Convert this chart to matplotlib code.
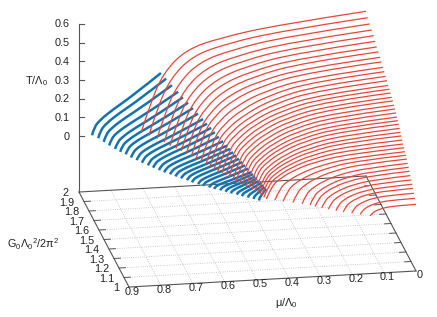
import matplotlib
matplotlib.use("Agg")
import matplotlib.pyplot as plt
from matplotlib.path import Path
from matplotlib.patches import PathPatch

plt.rcParams['font.family'] = ['Liberation Sans', 'DejaVu Sans']
plt.rcParams['mathtext.fontset'] = 'custom'
plt.rcParams['mathtext.rm'] = 'Liberation Sans'
plt.rcParams['mathtext.it'] = 'Liberation Sans'
plt.rcParams['mathtext.default'] = 'regular'

mu_ticks = [0, 0.1, 0.2, 0.3, 0.4, 0.5, 0.6, 0.7, 0.8, 0.9]
g_ticks = [1, 1.1, 1.2, 1.3, 1.4, 1.5, 1.6, 1.7, 1.8, 1.9, 2]
t_ticks = [0, 0.1, 0.2, 0.3, 0.4, 0.5, 0.6]

curve_G = [2.0, 1.966, 1.926, 1.886, 1.846, 1.814, 1.786, 1.75, 1.72, 1.69, 1.66,
           1.634, 1.606, 1.58, 1.556, 1.532, 1.508, 1.486, 1.462, 1.44, 1.42,
           1.40, 1.382, 1.364, 1.346, 1.328, 1.31, 1.292, 1.274, 1.256, 1.238,
           1.22, 1.202, 1.184, 1.166, 1.148, 1.13, 1.112, 1.094, 1.076, 1.058,
           1.04, 1.02, 1.0]

# red lines
red_mu = [
    [0, .282, .458, .564, .635, .677, .705], [0, .274, .446, .549, .617, .659, .686],
    [0, .267, .434, .534, .600, .640, .667], [0, .260, .423, .521, .586, .625, .651],
    [0, .256, .415, .511, .575, .613, .639], [0, .250, .406, .500, .563, .600, .625],
    [0, .245, .398, .490, .552, .588, .613], [0, .241, .392, .482, .543, .579, .603],
    [0, .237, .385, .474, .533, .568, .592], [0, .233, .378, .466, .524, .559, .582],
    [0, .228, .371, .457, .514, .548, .571], [0, .224, .363, .447, .503, .537, .559],
    [0, .220, .358, .441, .496, .529, .551], [0, .217, .352, .434, .488, .520, .542],
    [0, .214, .347, .427, .481, .513, .534], [0, .210, .341, .420, .473, .504, .525],
    [0, .206, .335, .413, .464, .495, .516], [0, .204, .332, .408, .459, .490, .510],
    [0, .200, .326, .401, .451, .481, .501], [0, .198, .322, .396, .446, .475, .495],
    [0, .194, .316, .389, .437, .467, .486], [0, .192, .312, .384, .432, .461, .480],
    [0, .189, .307, .378, .426, .454, .473], [0, .186, .303, .373, .419, .447, .466],
    [0, .184, .299, .368, .414, .442, .460], [0, .181, .294, .362, .408, .435, .453],
    [0, .179, .291, .358, .402, .429, .447], [0, .178, .289, .355, .400, .426, .444],
    [0, .176, .287, .353, .397, .423, .441], [0, .175, .284, .350, .393, .420, .437],
    [0, .173, .281, .346, .389, .415, .432], [0, .163, .265, .326, .367, .392, .408],
    [0, .154, .250, .308, .347, .370, .385], [0, .143, .232, .286, .321, .343, .357],
    [0, .132, .215, .265, .298, .318, .331], [0, .124, .201, .247, .278, .297, .309],
    [0, .118, .192, .237, .266, .284, .296], [0, .111, .181, .222, .250, .267, .278],
    [0, .104, .169, .208, .234, .250, .260], [0, .096, .155, .191, .215, .229, .239],
    [0, .088, .142, .175, .197, .210, .219], [0, .078, .127, .156, .176, .187, .195],
    [0, .069, .112, .138, .155, .165, .172], [0, .058, .094, .115, .130, .138, .144],
]
red_T = [
    [.582, .535, .483, .431, .314, .151, .000], [.565, .520, .467, .413, .302, .149, .000],
    [.552, .509, .454, .399, .291, .148, .001], [.540, .498, .443, .385, .281, .146, .001],
    [.530, .489, .433, .373, .273, .146, .001], [.516, .477, .420, .358, .263, .144, .002],
    [.500, .463, .405, .343, .252, .142, .002], [.492, .456, .397, .333, .244, .141, .002],
    [.478, .443, .384, .319, .234, .139, .002], [.469, .435, .375, .309, .227, .138, .002],
    [.455, .422, .363, .295, .217, .136, .003], [.445, .413, .353, .284, .210, .134, .003],
    [.434, .404, .343, .273, .202, .132, .003], [.424, .394, .335, .267, .197, .129, .003],
    [.411, .382, .325, .259, .191, .125, .003], [.403, .375, .318, .254, .187, .123, .004],
    [.395, .367, .312, .249, .184, .120, .004], [.383, .356, .303, .241, .178, .117, .004],
    [.376, .350, .297, .237, .175, .115, .004], [.364, .339, .288, .229, .169, .111, .005],
    [.354, .329, .280, .223, .165, .108, .005], [.343, .319, .271, .216, .159, .105, .005],
    [.330, .307, .261, .208, .153, .101, .005], [.320, .298, .253, .202, .149, .098, .005],
    [.310, .288, .245, .195, .144, .095, .005], [.297, .276, .235, .187, .138, .091, .006],
    [.285, .265, .225, .180, .133, .087, .006], [.275, .256, .217, .173, .128, .084, .006],
    [.262, .244, .207, .165, .122, .080, .006], [.250, .233, .198, .158, .116, .076, .006],
    [.239, .222, .189, .151, .111, .073, .006], [.227, .211, .179, .143, .106, .069, .007],
    [.217, .202, .171, .137, .101, .066, .007], [.206, .192, .163, .130, .096, .063, .007],
    [.192, .179, .152, .121, .089, .059, .007], [.180, .167, .142, .113, .084, .055, .008],
    [.168, .156, .133, .106, .078, .051, .008], [.154, .143, .122, .097, .072, .047, .008],
    [.140, .131, .112, .091, .067, .044, .008], [.126, .118, .103, .084, .062, .041, .008],
    [.113, .107, .095, .077, .058, .038, .008], [.096, .092, .082, .067, .050, .033, .009],
    [.079, .076, .069, .056, .042, .028, .009], [.057, .055, .050, .041, .031, .021, .009],
]

# blue lines, same couplings, top 31 curves only
blue_mu = [
    [.859, .853, .833, .794, .729, .643], [.845, .839, .819, .781, .717, .632],
    [.834, .828, .808, .770, .706, .620], [.823, .817, .797, .758, .693, .607],
    [.811, .805, .785, .747, .683, .598], [.800, .794, .774, .736, .672, .587],
    [.787, .781, .762, .724, .660, .576], [.776, .770, .751, .713, .650, .566],
    [.763, .757, .738, .701, .638, .555], [.751, .745, .727, .690, .629, .547],
    [.737, .731, .713, .678, .618, .539], [.725, .719, .702, .667, .609, .531],
    [.711, .705, .688, .655, .598, .523], [.699, .693, .677, .644, .588, .514],
    [.684, .679, .663, .630, .577, .505], [.671, .666, .650, .620, .568, .500],
    [.657, .652, .637, .608, .559, .494], [.642, .637, .624, .596, .550, .488],
    [.630, .626, .612, .586, .541, .482], [.614, .610, .597, .573, .531, .476],
    [.602, .598, .586, .562, .523, .470], [.586, .582, .571, .549, .513, .464],
    [.573, .570, .559, .538, .503, .457], [.557, .554, .545, .526, .495, .454],
    [.543, .540, .532, .515, .487, .450], [.529, .527, .519, .504, .480, .447],
    [.513, .511, .505, .492, .472, .444], [.500, .498, .493, .482, .464, .440],
    [.484, .483, .478, .470, .456, .437], [.469, .468, .465, .459, .449, .435],
    [.455, .454, .452, .448, .442, .433],
]
blue_T = [
    [0, .041, .081, .131, .203, .313], [0, .039, .078, .126, .194, .299],
    [0, .037, .074, .119, .184, .283], [0, .035, .069, .112, .174, .267],
    [0, .033, .067, .108, .167, .257], [0, .032, .063, .102, .158, .243],
    [0, .030, .059, .095, .148, .227], [0, .028, .056, .090, .140, .215],
    [0, .026, .052, .084, .130, .200], [0, .025, .049, .080, .124, .190],
    [0, .024, .047, .076, .118, .182], [0, .022, .044, .072, .111, .171],
    [0, .021, .042, .067, .104, .160], [0, .019, .039, .063, .097, .149],
    [0, .018, .036, .058, .089, .137], [0, .017, .034, .055, .085, .131],
    [0, .016, .032, .052, .081, .124], [0, .015, .031, .050, .077, .118],
    [0, .015, .029, .047, .073, .112], [0, .014, .027, .044, .068, .105],
    [0, .013, .025, .041, .063, .097], [0, .012, .023, .037, .058, .089],
    [0, .010, .021, .033, .051, .079], [0, .010, .020, .032, .050, .077],
    [0, .009, .019, .031, .047, .073], [0, .009, .018, .030, .046, .071],
    [0, .009, .017, .028, .044, .067], [0, .008, .017, .027, .042, .065],
    [0, .008, .016, .026, .040, .062], [0, .008, .016, .026, .040, .062],
    [0, .008, .016, .026, .040, .062],
]


# gnuplot-style view of the box, in pixels of the 437x317 figure
def project(mu, g, t):
    x = 416 - 318.9 * mu - 50 * (g - 1)
    y = 271 + 17.8 * mu - 95 * (g - 1) - 186.7 * (t + 0.3)
    return x, y


def smooth_curve(mu, g, t, color, lw, zorder):
    pts = [project(m, g, v) for m, v in zip(mu, t)]
    verts = [pts[0]]
    codes = [Path.MOVETO]
    for i in range(1, len(pts) - 2):
        mid = ((pts[i][0] + pts[i + 1][0]) / 2, (pts[i][1] + pts[i + 1][1]) / 2)
        verts += [pts[i], mid]
        codes += [Path.CURVE3, Path.CURVE3]
    verts += [pts[-2], pts[-1]]
    codes += [Path.CURVE3, Path.CURVE3]
    ax.add_patch(PathPatch(Path(verts, codes), fc='none', ec=color, lw=lw, zorder=zorder, capstyle='butt'))


fig = plt.figure(figsize=(4.37, 3.17), dpi=100)
ax = fig.add_axes([0, 0, 1, 1])
ax.set_xlim(0, 437)
ax.set_ylim(317, 0)
ax.axis('off')

axis_c = '#555555'
text_c = '#222222'
floor = -0.3

# floor grid
for m in mu_ticks[1:-1]:
    a, b = project(m, 1, floor), project(m, 2, floor)
    ax.plot([a[0], b[0]], [a[1], b[1]], ls=':', lw=0.6, color='#bbbbbb', zorder=1)
for g in g_ticks[1:-1]:
    a, b = project(0, g, floor), project(0.9, g, floor)
    ax.plot([a[0], b[0]], [a[1], b[1]], ls=':', lw=0.6, color='#bbbbbb', zorder=1)

# box edges on the floor
for m0, g0, m1, g1 in [(0, 1, 0.9, 1), (0.9, 1, 0.9, 2), (0.9, 2, 0, 2), (0, 2, 0, 1)]:
    a, b = project(m0, g0, floor), project(m1, g1, floor)
    ax.plot([a[0], b[0]], [a[1], b[1]], lw=0.8, color=axis_c, zorder=2)

# T axis
a, b = project(0.9, 2, floor), project(0.9, 2, 0.6)
ax.plot([a[0], b[0]], [a[1], b[1]], lw=0.8, color=axis_c, zorder=2)
for t in t_ticks:
    x, y = project(0.9, 2, t)
    ax.plot([x, x + 5], [y, y], lw=0.8, color=axis_c, zorder=2)
    ax.text(x - 9, y + 0.5, '%g' % t, ha='right', va='center', fontsize=7.8, color=text_c)

# ticks and labels on the floor
for g in g_ticks:
    x, y = project(0.9, g, floor)
    ax.text(x - 10, y + 1, '%g' % g, ha='right', va='center', fontsize=7.8, color=text_c)
    if 1 < g < 2:
        a, b = project(0.9, g, floor), project(0.88, g, floor)
        ax.plot([a[0], b[0]], [a[1], b[1]], lw=0.7, color=axis_c, zorder=2)
        a, b = project(0, g, floor), project(0.02, g, floor)
        ax.plot([a[0], b[0]], [a[1], b[1]], lw=0.7, color=axis_c, zorder=2)
for m in mu_ticks:
    x, y = project(m, 1, floor)
    ax.text(x + 3.5, y + 4.5, '%g' % m, ha='center', va='center', fontsize=7.8, color=text_c)

ax.text(36, 81, r'T/$\Lambda_0$', ha='center', va='center', fontsize=7.8, color=text_c)
ax.text(33, 244, r'$G_0\Lambda_0{}^2/2\pi^2$', ha='center', va='center', fontsize=7.8, color=text_c)
ax.text(286, 303, r'$\mu/\Lambda_0$', ha='center', va='center', fontsize=7.8, color=text_c)

for g, mu, t in zip(curve_G, blue_mu, blue_T):
    smooth_curve(mu, g, t, '#1273b0', 1.8, 3)
for g, mu, t in zip(curve_G, red_mu, red_T):
    smooth_curve(mu, g, t, '#e8443a', 0.9, 4)

fig.savefig('out.png', dpi=100)
